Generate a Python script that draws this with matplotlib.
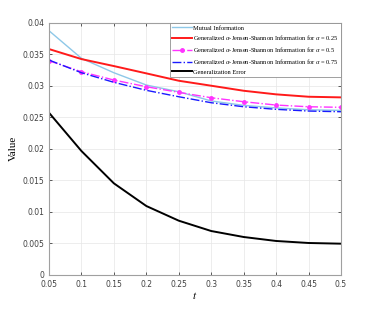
import numpy as np
import matplotlib.pyplot as plt

t = [0.05, 0.1, 0.15, 0.2, 0.25, 0.3, 0.35, 0.4, 0.45, 0.5]
mutual_info = [0.03875, 0.03437, 0.03208, 0.03013, 0.02906, 0.0276, 0.0269, 0.0265, 0.0262, 0.0261]
gjs_025 = [0.03584, 0.03425, 0.03314, 0.03198, 0.03081, 0.03002, 0.02922, 0.02865, 0.02827, 0.02817]
gjs_05 = [0.03398, 0.03224, 0.03092, 0.02986, 0.02897, 0.02811, 0.02748, 0.02695, 0.02668, 0.02659]
gjs_075 = [0.0341, 0.03208, 0.03056, 0.02929, 0.02827, 0.02732, 0.02668, 0.02627, 0.026, 0.02589]
gen_error = [0.02573, 0.01965, 0.01452, 0.01092, 0.00859, 0.00695, 0.0060, 0.00537, 0.00505, 0.00494]

labels = ['Mutual Information',
          r'Generalized $\alpha$-Jensen-Shannon Information for $\alpha$ = 0.25',
          r'Generalized $\alpha$-Jensen-Shannon Information for $\alpha$ = 0.5',
          r'Generalized $\alpha$-Jensen-Shannon Information for $\alpha$ = 0.75',
          'Generalization Error']
xticks = [0.05, 0.1, 0.15, 0.2, 0.25, 0.3, 0.35, 0.4, 0.45, 0.5]
yticks = [0, 0.005, 0.01, 0.015, 0.02, 0.025, 0.03, 0.035, 0.04]

plt.rcParams['mathtext.fontset'] = 'stix'

fig = plt.figure(figsize=(3.77, 3.09), dpi=100)
ax = fig.add_axes([0.130, 0.1107, 0.7745, 0.8153])

ax.plot(t, mutual_info, color='#8ec8e8', lw=1.0, label=labels[0])
ax.plot(t, gjs_025, color='#ff1a1a', lw=1.4, label=labels[1])
ax.plot(t, gjs_05, color='#ff33ff', lw=1.0, ls='-.', marker='o', ms=2.5, label=labels[2])
ax.plot(t, gjs_075, color='#1a1aff', lw=1.0, ls='-.', label=labels[3])
ax.plot(t, gen_error, color='black', lw=1.4, label=labels[4])

ax.set_xlim(0.05, 0.5)
ax.set_ylim(0, 0.04)
ax.set_xticks(xticks)
ax.set_xticklabels(['0.05', '0.1', '0.15', '0.2', '0.25', '0.3', '0.35', '0.4', '0.45', '0.5'])
ax.set_yticks(yticks)
ax.set_yticklabels(['0', '0.005', '0.01', '0.015', '0.02', '0.025', '0.03', '0.035', '0.04'])
ax.tick_params(direction='in', length=2.5, labelsize=5.5, colors='#404040',
               top=True, right=True, width=0.6)
ax.grid(True, color='#e6e6e6', lw=0.5)
for s in ax.spines.values():
    s.set_color('#a0a0a0')
    s.set_linewidth(0.8)

ax.set_xlabel('$t$', fontsize=8, family='Liberation Serif', labelpad=1)
ax.set_ylabel('Value', fontsize=8, family='Liberation Serif', labelpad=3)

leg = ax.legend(loc='upper right', prop={'family': 'Liberation Serif', 'size': 4.6},
                fancybox=False, edgecolor='#909090', framealpha=1,
                handlelength=3, handletextpad=0.3, borderpad=0.35,
                labelspacing=0.45, borderaxespad=0)
leg.get_frame().set_linewidth(0.6)

fig.savefig('out.png', dpi=100)
